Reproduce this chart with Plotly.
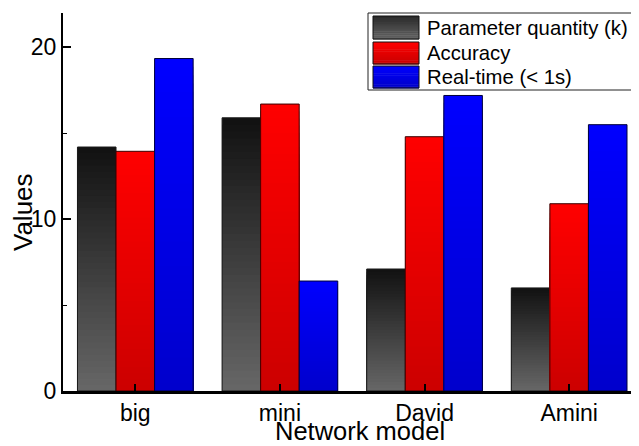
import plotly.graph_objects as go

# ---- data ----
categories = ["big", "mini", "David", "Amini"]
series_names = ["Parameter quantity (k)", "Accuracy", "Real-time (< 1s)"]
param_vals = [14.2, 15.9, 7.1, 6.0]
acc_vals = [13.95, 16.7, 14.8, 10.9]
rt_vals = [19.35, 6.4, 17.2, 15.5]
y_tick_vals = [0, 10, 20]

# ---- styling ----
# the page body has an 8px default margin, so the figure is drawn
# 8px smaller and the margins are reduced accordingly
OFF = 8
W, H = 639 - OFF, 446 - OFF
ML, MR, MT, MB = 63 - OFF, 0, 13 - OFF, 55
PW, PH = W - ML - MR, H - MT - MB
FONT = "Liberation Sans, Arial, sans-serif"

grads = [((17, 17, 17), (103, 103, 103)),
         ((255, 0, 0), (204, 0, 0)),
         ((0, 0, 255), (0, 0, 204))]
legend_grads = [((40, 40, 40), (100, 100, 100)),
                ((255, 0, 0), (200, 0, 0)),
                ((0, 0, 255), (0, 0, 200))]
outline_cols = ["#1a1a1a", "#3a0000", "#00003a"]

N = 40


def mix(top, bot, t):
    return "rgb(%d,%d,%d)" % tuple(round(b + (a - b) * t) for a, b in zip(top, bot))


fig = go.Figure()
all_vals = [param_vals, acc_vals, rt_vals]
for si, vals in enumerate(all_vals):
    top, bot = grads[si]
    for k in range(N):
        frac = (N - k) / N
        tmid = (N - k - 0.5) / N
        fig.add_trace(go.Bar(
            x=categories, y=[v * frac for v in vals],
            offsetgroup=str(si), marker_color=mix(top, bot, tmid),
            marker_line_width=0, showlegend=False, hoverinfo="skip"))
    fig.add_trace(go.Bar(
        x=categories, y=vals, name=series_names[si], offsetgroup=str(si),
        marker=dict(color="rgba(0,0,0,0)", line=dict(color=outline_cols[si], width=1)),
        showlegend=False))


# convert window pixel positions to paper coordinates
def px_x(px):
    return (px - OFF - ML) / PW


def px_y(py):
    return (OFF + H - MB - py) / PH


shapes = []
annotations = []
shapes.append(dict(type="rect", xref="paper", yref="paper",
                   x0=px_x(368), x1=px_x(636), y0=px_y(90), y1=px_y(13),
                   line=dict(color="#222", width=1), fillcolor="white", layer="above"))
rows = [(16, 39, 28), (42, 64, 53), (66, 88, 77)]
NB = 12
for i, (r0, r1, rc) in enumerate(rows):
    top, bot = legend_grads[i]
    for b in range(NB):
        y_top = r0 + (r1 - r0) * b / NB
        y_bot = r0 + (r1 - r0) * (b + 1) / NB
        t = 1 - (b + 0.5) / NB
        shapes.append(dict(type="rect", xref="paper", yref="paper",
                           x0=px_x(373), x1=px_x(419), y0=px_y(y_bot + 0.5), y1=px_y(y_top),
                           line=dict(width=0), fillcolor=mix(top, bot, t), layer="above"))
    shapes.append(dict(type="rect", xref="paper", yref="paper",
                       x0=px_x(373), x1=px_x(419), y0=px_y(r1), y1=px_y(r0),
                       line=dict(color="#111", width=1), fillcolor="rgba(0,0,0,0)", layer="above"))
    annotations.append(dict(xref="paper", yref="paper", x=px_x(425), y=px_y(rc),
                            xanchor="left", yanchor="middle", showarrow=False,
                            text=series_names[i], font=dict(family=FONT, size=20.3, color="black")))

# axis titles
annotations.append(dict(xref="paper", yref="paper", x=px_x(360), y=px_y(430.5),
                        xanchor="center", yanchor="middle", showarrow=False,
                        text="Network model", font=dict(family=FONT, size=25.5, color="black")))
annotations.append(dict(xref="paper", yref="paper", x=px_x(23), y=px_y(212),
                        xanchor="center", yanchor="middle", showarrow=False, textangle=-90,
                        text="Values", font=dict(family=FONT, size=26, color="black")))

fig.update_layout(
    width=W, height=H,
    margin=dict(l=ML, r=MR, t=MT, b=MB, autoexpand=False),
    paper_bgcolor="white", plot_bgcolor="white",
    barmode="group", bargap=0.2, bargroupgap=0,
    showlegend=False,
    font=dict(family=FONT, color="black"),
    shapes=shapes, annotations=annotations,
    xaxis=dict(
        type="category", categoryorder="array", categoryarray=categories,
        range=[-0.5, 3.483], showline=True, linecolor="black", linewidth=2.5,
        ticks="inside", ticklen=7, tickwidth=1.5, tickcolor="black",
        tickfont=dict(size=23), showgrid=False, zeroline=False,
    ),
    xaxis2=dict(
        overlaying="x", side="top", range=[-0.5, 3.483], dtick=0.5, tick0=0,
        showline=True, linecolor="black", linewidth=1.5,
        ticks="outside", ticklen=2, tickwidth=1, tickcolor="black",
        showticklabels=False, showgrid=False, zeroline=False,
    ),
    yaxis=dict(
        range=[0, 22], tickvals=y_tick_vals, showline=True, linecolor="black", linewidth=2,
        ticks="inside", ticklen=8, tickwidth=1.5, tickcolor="black",
        minor=dict(tickvals=[5, 15], ticks="inside", ticklen=4, tickwidth=1.2, tickcolor="black"),
        tickfont=dict(size=23), showgrid=False, zeroline=False,
    ),
)

fig.write_html("out.html")
